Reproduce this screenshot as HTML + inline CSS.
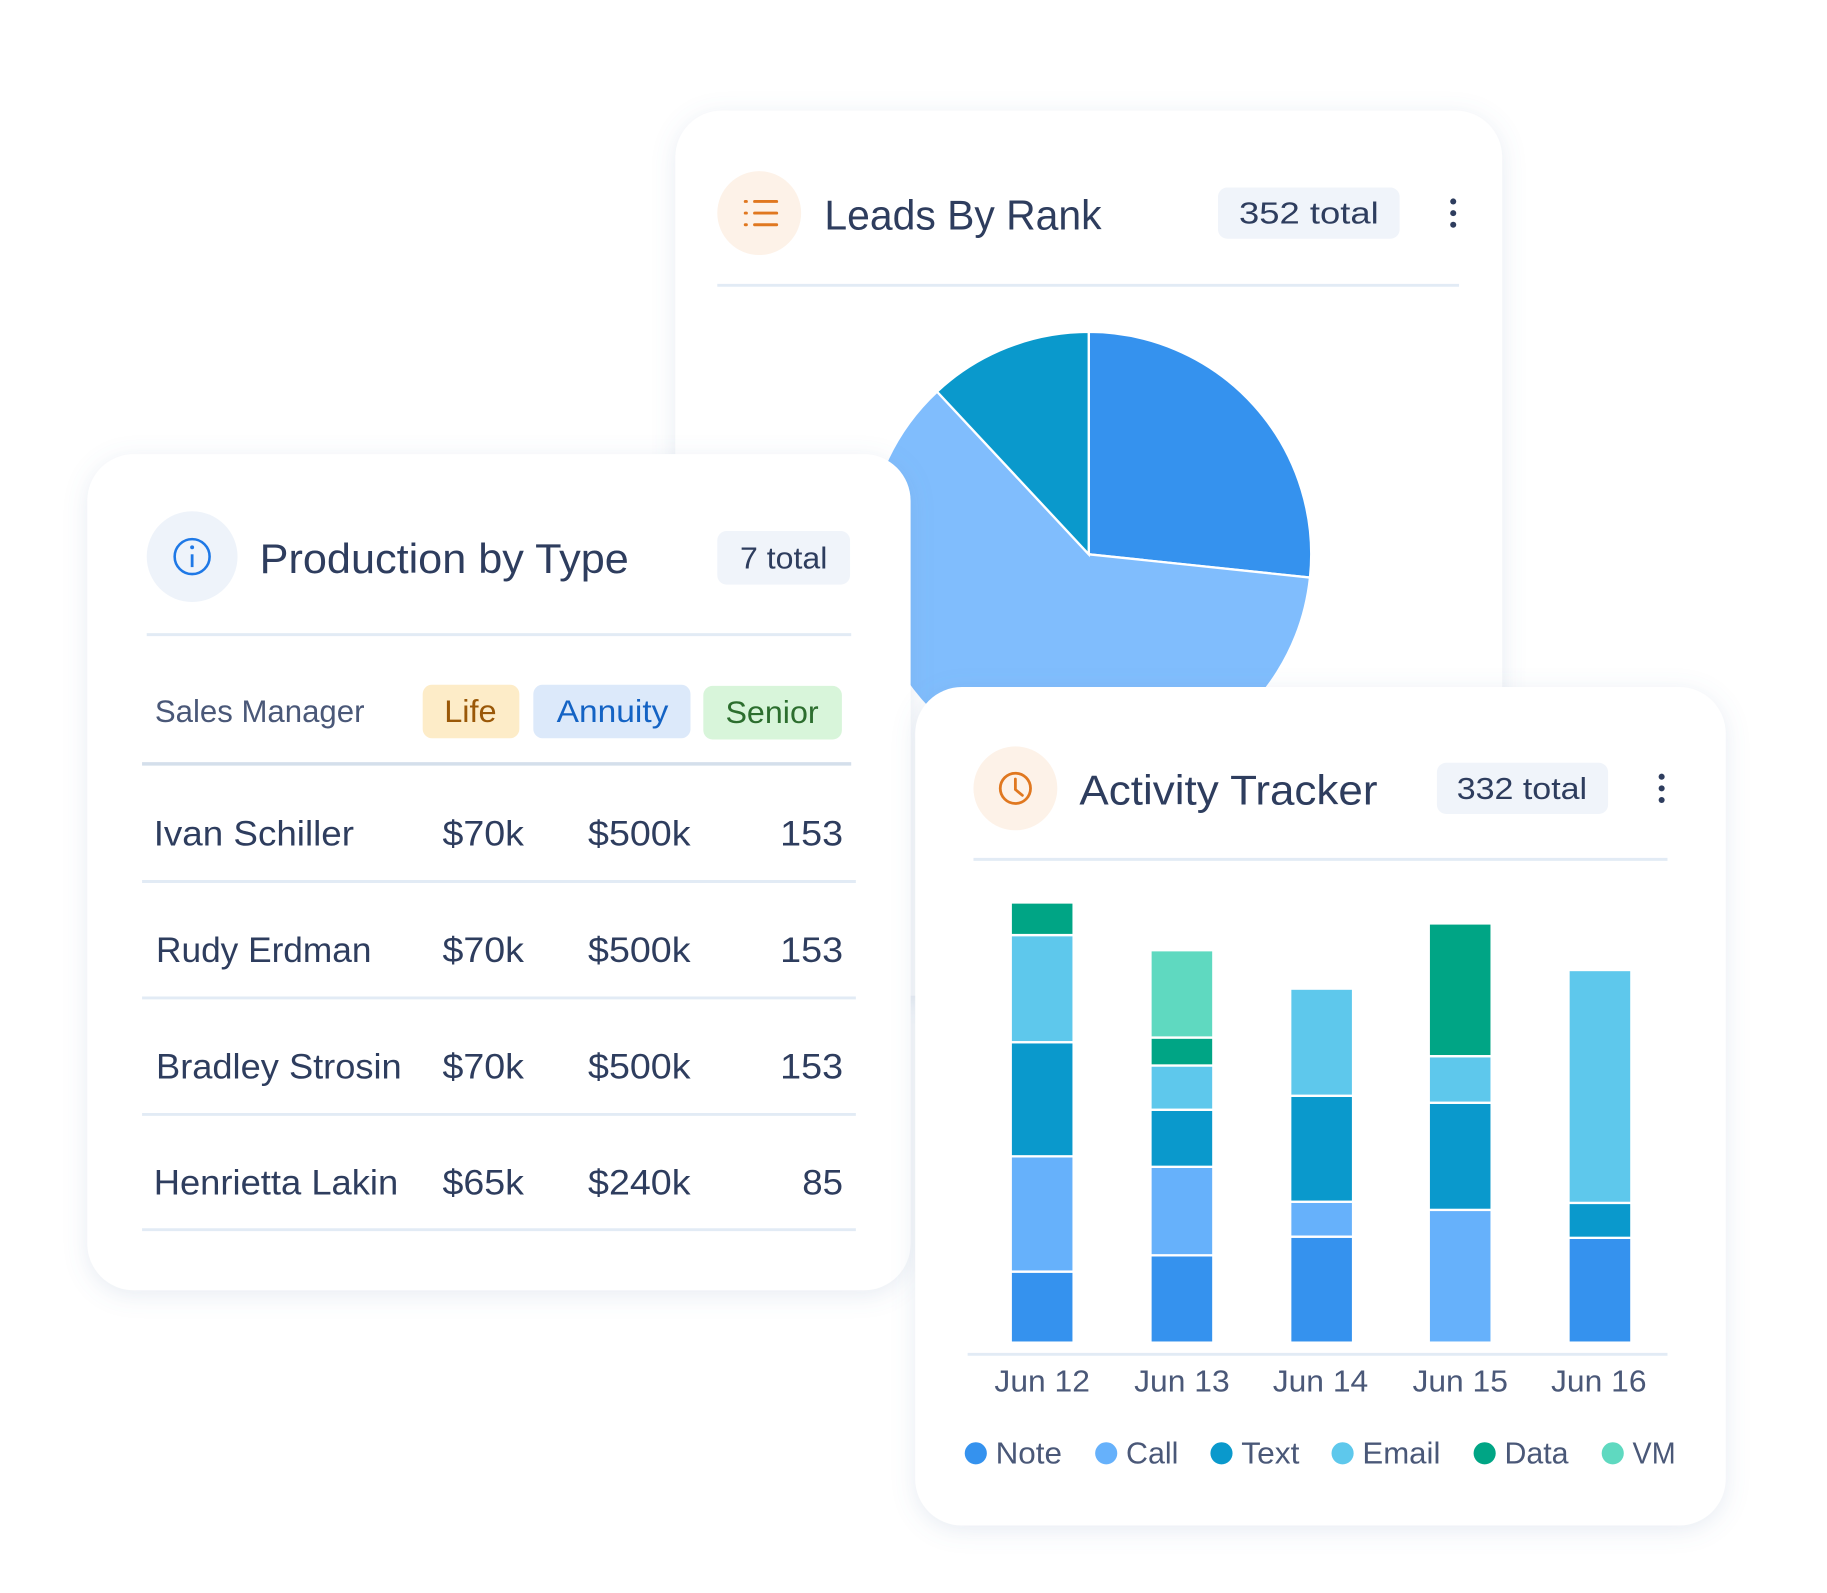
<!DOCTYPE html>
<html><head><meta charset="utf-8"><style>
html,body{margin:0;padding:0;background:#fff;}
svg{display:block;font-family:"Liberation Sans",sans-serif;}
</style></head><body>
<svg width="1827" height="1593" viewBox="0 0 1569 1368" preserveAspectRatio="none" xmlns="http://www.w3.org/2000/svg">
<defs>
<filter id="sh" x="-20%" y="-20%" width="140%" height="140%">
<feDropShadow dx="0" dy="4" stdDeviation="10" flood-color="#6a87b0" flood-opacity="0.16"/>
</filter>
</defs>
<rect x="580" y="95" width="710" height="760" rx="40" fill="#fff" filter="url(#sh)"/>
<circle cx="652" cy="183" r="36" fill="#fdf2e8"/>
<g stroke="#e07820" stroke-width="2.5" stroke-linecap="round">
<line x1="648" y1="173" x2="667" y2="173"/><line x1="648" y1="183" x2="667" y2="183"/><line x1="648" y1="193" x2="667" y2="193"/>
<line x1="640" y1="173" x2="641" y2="173"/><line x1="640" y1="183" x2="641" y2="183"/><line x1="640" y1="193" x2="641" y2="193"/>
</g>
<text x="708" y="197" font-size="36" fill="#2e3d5e" textLength="238" lengthAdjust="spacingAndGlyphs">Leads By Rank</text>
<rect x="1046" y="161" width="156" height="44" rx="8" fill="#f0f4fa"/>
<text x="1124" y="192" font-size="26" fill="#2e3d5e" text-anchor="middle" textLength="120" lengthAdjust="spacingAndGlyphs">352  total</text>
<g fill="#2e3d5e"><circle cx="1248" cy="173" r="2.6"/><circle cx="1248" cy="183" r="2.6"/><circle cx="1248" cy="193" r="2.6"/></g>
<line x1="616" y1="245" x2="1253" y2="245" stroke="#e2ebf5" stroke-width="2.5"/>
<g stroke="#fff" stroke-width="2">
<path d="M935,476 L935,285 A191,191 0 0 1 1125,496 Z" fill="#3592ee"/>
<path d="M935,476 L1125,496 A191,191 0 1 1 804.7,336.3 Z" fill="#80bdfd"/>
<path d="M935,476 L804.7,336.3 A191,191 0 0 1 935,285 Z" fill="#0a99cc"/>
</g>
<rect x="75" y="390" width="707" height="718" rx="40" fill="#fff" filter="url(#sh)"/>
<circle cx="165" cy="478" r="39" fill="#eef3fa"/>
<circle cx="165" cy="478" r="15" fill="none" stroke="#1e78e6" stroke-width="2.2"/>
<line x1="165" y1="476" x2="165" y2="487" stroke="#1e78e6" stroke-width="2.4"/>
<circle cx="165" cy="470" r="1.7" fill="#1e78e6"/>
<text x="223" y="492" font-size="36" fill="#2e3d5e" textLength="317" lengthAdjust="spacingAndGlyphs">Production by Type</text>
<rect x="616" y="456" width="114" height="46" rx="8" fill="#f0f4fa"/>
<text x="673" y="488" font-size="26" fill="#2e3d5e" text-anchor="middle" textLength="75" lengthAdjust="spacingAndGlyphs">7 total</text>
<line x1="126" y1="545" x2="731" y2="545" stroke="#e2ebf5" stroke-width="2.5"/>
<text x="133" y="620" font-size="27" fill="#4a5878" textLength="180" lengthAdjust="spacingAndGlyphs">Sales Manager</text>
<rect x="363" y="588" width="83" height="46" rx="8" fill="#fdecc8"/>
<text x="404" y="620" font-size="27" fill="#9a5808" text-anchor="middle" textLength="45" lengthAdjust="spacingAndGlyphs">Life</text>
<rect x="458" y="588" width="135" height="46" rx="8" fill="#dce9fa"/>
<text x="526" y="620" font-size="27" fill="#1463c4" text-anchor="middle" textLength="96" lengthAdjust="spacingAndGlyphs">Annuity</text>
<rect x="604" y="589" width="119" height="46" rx="8" fill="#d8f5da"/>
<text x="663" y="621" font-size="27" fill="#2c6e2e" text-anchor="middle" textLength="80" lengthAdjust="spacingAndGlyphs">Senior</text>
<line x1="122" y1="656" x2="731" y2="656" stroke="#d4dfeb" stroke-width="3"/>
<g font-size="30" fill="#2e3d5e">
<text x="132" y="726" textLength="172" lengthAdjust="spacingAndGlyphs">Ivan Schiller</text>
<text x="380" y="726" textLength="70" lengthAdjust="spacingAndGlyphs">$70k</text>
<text x="505" y="726" textLength="88" lengthAdjust="spacingAndGlyphs">$500k</text>
<text x="724" y="726" text-anchor="end" textLength="54" lengthAdjust="spacingAndGlyphs">153</text>
<text x="134" y="826" textLength="185" lengthAdjust="spacingAndGlyphs">Rudy Erdman</text>
<text x="380" y="826" textLength="70" lengthAdjust="spacingAndGlyphs">$70k</text>
<text x="505" y="826" textLength="88" lengthAdjust="spacingAndGlyphs">$500k</text>
<text x="724" y="826" text-anchor="end" textLength="54" lengthAdjust="spacingAndGlyphs">153</text>
<text x="134" y="926" textLength="211" lengthAdjust="spacingAndGlyphs">Bradley Strosin</text>
<text x="380" y="926" textLength="70" lengthAdjust="spacingAndGlyphs">$70k</text>
<text x="505" y="926" textLength="88" lengthAdjust="spacingAndGlyphs">$500k</text>
<text x="724" y="926" text-anchor="end" textLength="54" lengthAdjust="spacingAndGlyphs">153</text>
<text x="132" y="1026" textLength="210" lengthAdjust="spacingAndGlyphs">Henrietta Lakin</text>
<text x="380" y="1026" textLength="70" lengthAdjust="spacingAndGlyphs">$65k</text>
<text x="505" y="1026" textLength="88" lengthAdjust="spacingAndGlyphs">$240k</text>
<text x="724" y="1026" text-anchor="end" textLength="35" lengthAdjust="spacingAndGlyphs">85</text>
</g>
<g stroke="#e2ebf5" stroke-width="2.5">
<line x1="122" y1="757" x2="735" y2="757"/><line x1="122" y1="857" x2="735" y2="857"/><line x1="122" y1="957" x2="735" y2="957"/><line x1="122" y1="1056" x2="735" y2="1056"/>
</g>
<rect x="786" y="590" width="696" height="720" rx="40" fill="#fff" filter="url(#sh)"/>
<circle cx="872" cy="677" r="36" fill="#fdf2e8"/>
<circle cx="872" cy="677" r="13" fill="none" stroke="#e07820" stroke-width="2.4"/>
<polyline points="872,669 872,678 878,683" fill="none" stroke="#e07820" stroke-width="2.4" stroke-linecap="round"/>
<text x="927" y="691" font-size="36" fill="#2e3d5e" textLength="256" lengthAdjust="spacingAndGlyphs">Activity Tracker</text>
<rect x="1234" y="655" width="147" height="44" rx="8" fill="#f0f4fa"/>
<text x="1307" y="686" font-size="26" fill="#2e3d5e" text-anchor="middle" textLength="112" lengthAdjust="spacingAndGlyphs">332  total</text>
<g fill="#2e3d5e"><circle cx="1427" cy="667" r="2.6"/><circle cx="1427" cy="677" r="2.6"/><circle cx="1427" cy="687" r="2.6"/></g>
<line x1="836" y1="738" x2="1432" y2="738" stroke="#e2ebf5" stroke-width="2.5"/>
<g stroke="#fff" stroke-width="2">
<rect x="868" y="1092" width="54" height="61" fill="#3592ee"/>
<rect x="868" y="993" width="54" height="99" fill="#66b1fb"/>
<rect x="868" y="895" width="54" height="98" fill="#0a99cc"/>
<rect x="868" y="803" width="54" height="92" fill="#5ec8ec"/>
<rect x="868" y="775" width="54" height="28" fill="#00a585"/>
<rect x="988" y="1078" width="54" height="75" fill="#3592ee"/>
<rect x="988" y="1002" width="54" height="76" fill="#66b1fb"/>
<rect x="988" y="953" width="54" height="49" fill="#0a99cc"/>
<rect x="988" y="915" width="54" height="38" fill="#5ec8ec"/>
<rect x="988" y="891" width="54" height="24" fill="#00a585"/>
<rect x="988" y="816" width="54" height="75" fill="#5fd9c0"/>
<rect x="1108" y="1062" width="54" height="91" fill="#3592ee"/>
<rect x="1108" y="1032" width="54" height="30" fill="#66b1fb"/>
<rect x="1108" y="941" width="54" height="91" fill="#0a99cc"/>
<rect x="1108" y="849" width="54" height="92" fill="#5ec8ec"/>
<rect x="1227" y="1039" width="54" height="114" fill="#66b1fb"/>
<rect x="1227" y="947" width="54" height="92" fill="#0a99cc"/>
<rect x="1227" y="907" width="54" height="40" fill="#5ec8ec"/>
<rect x="1227" y="793" width="54" height="114" fill="#00a585"/>
<rect x="1347" y="1063" width="54" height="90" fill="#3592ee"/>
<rect x="1347" y="1033" width="54" height="30" fill="#0a99cc"/>
<rect x="1347" y="833" width="54" height="200" fill="#5ec8ec"/>
</g>
<line x1="831" y1="1163" x2="1432" y2="1163" stroke="#e2ebf5" stroke-width="2.5"/>
<g font-size="26" fill="#4a5878" text-anchor="middle">
<text x="895" y="1195" textLength="82" lengthAdjust="spacingAndGlyphs">Jun 12</text>
<text x="1015" y="1195" textLength="82" lengthAdjust="spacingAndGlyphs">Jun 13</text>
<text x="1134" y="1195" textLength="82" lengthAdjust="spacingAndGlyphs">Jun 14</text>
<text x="1254" y="1195" textLength="82" lengthAdjust="spacingAndGlyphs">Jun 15</text>
<text x="1373" y="1195" textLength="82" lengthAdjust="spacingAndGlyphs">Jun 16</text>
</g>
<circle cx="838" cy="1248" r="9.5" fill="#3592ee"/>
<circle cx="950" cy="1248" r="9.5" fill="#66b1fb"/>
<circle cx="1049" cy="1248" r="9.5" fill="#0a99cc"/>
<circle cx="1153" cy="1248" r="9.5" fill="#5ec8ec"/>
<circle cx="1275" cy="1248" r="9.5" fill="#00a585"/>
<circle cx="1385" cy="1248" r="9.5" fill="#5fd9c0"/>
<g font-size="26" fill="#4a5878">
<text x="855" y="1257" textLength="57" lengthAdjust="spacingAndGlyphs">Note</text>
<text x="967" y="1257" textLength="45" lengthAdjust="spacingAndGlyphs">Call</text>
<text x="1066" y="1257" textLength="50" lengthAdjust="spacingAndGlyphs">Text</text>
<text x="1170" y="1257" textLength="67" lengthAdjust="spacingAndGlyphs">Email</text>
<text x="1292" y="1257" textLength="55" lengthAdjust="spacingAndGlyphs">Data</text>
<text x="1402" y="1257" textLength="37" lengthAdjust="spacingAndGlyphs">VM</text>
</g>
</svg>
</body></html>
